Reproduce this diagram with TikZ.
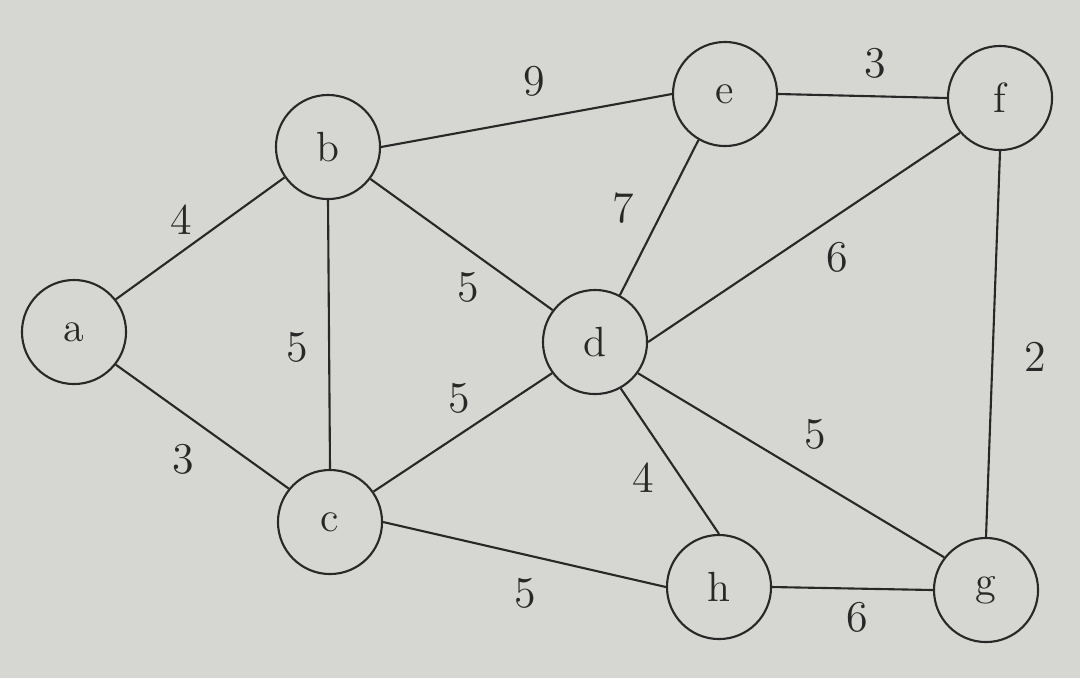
\documentclass[tikz,border=0pt]{standalone}
\definecolor{bgc}{RGB}{214,214,210}
\definecolor{inkc}{RGB}{40,40,40}
\begin{document}
\begin{tikzpicture}[x=0.01cm,y=-0.01cm,
  vert/.style={circle,draw=inkc,line width=0.6pt,minimum size=1.04cm,inner sep=0pt,
    font=\fontsize{12}{14}\selectfont,text=inkc},
  wt/.style={font=\fontsize{12.5}{14}\selectfont,text=inkc,inner sep=1pt},
  edge/.style={draw=inkc,line width=0.6pt}]
\fill[bgc] (0,0) rectangle (1080,678);
\useasboundingbox (0,0) rectangle (1080,678);
% vertices
\node[vert] (a) at (74,332) {a};
\node[vert] (b) at (328,147) {b};
\node[vert] (c) at (330,522) {c};
\node[vert] (d) at (595,342) {d};
\node[vert] (e) at (725,94) {e};
\node[vert] (f) at (1000,98) {f};
\node[vert] (g) at (986,590) {g};
\node[vert] (h) at (719,587) {h};
% edges
\draw[edge] (a.38) -- (b.215);
\draw[edge] (a.-38) -- (c.141);
\draw[edge] (b.south) -- (c.north);
\draw[edge] (b.east) -- (e.west);
\draw[edge] (b.-37) -- (d.143);
\draw[edge] (c.35) -- (d.216);
\draw[edge] (c.east) -- (h.west);
\draw[edge] (d.62) -- (e.240);
\draw[edge] (d.east) -- (f.221);
\draw[edge] (d.-61) -- (h.north);
\draw[edge] (d.-36) -- (g.142);
\draw[edge] (e.east) -- (f.west);
\draw[edge] (f.south) -- (g.north);
\draw[edge] (h.east) -- (g.west);
% weights
\node[wt] (wab) at (181,220) {4};
\node[wt] (wac) at (183,459) {3};
\node[wt] (wbc) at (297,347) {5};
\node[wt] (wbd) at (468,287) {5};
\node[wt] (wcd) at (459,398) {5};
\node[wt] (wbe) at (534,81) {9};
\node[wt] (wde) at (623,208) {7};
\node[wt] (wef) at (875,63) {3};
\node[wt] (wdf) at (837,257) {6};
\node[wt] (wfg) at (1035,357) {2};
\node[wt] (wdg) at (815,434) {5};
\node[wt] (wdh) at (643,478) {4};
\node[wt] (wch) at (525,593) {5};
\node[wt] (whg) at (857,617) {6};
\end{tikzpicture}
\end{document}
